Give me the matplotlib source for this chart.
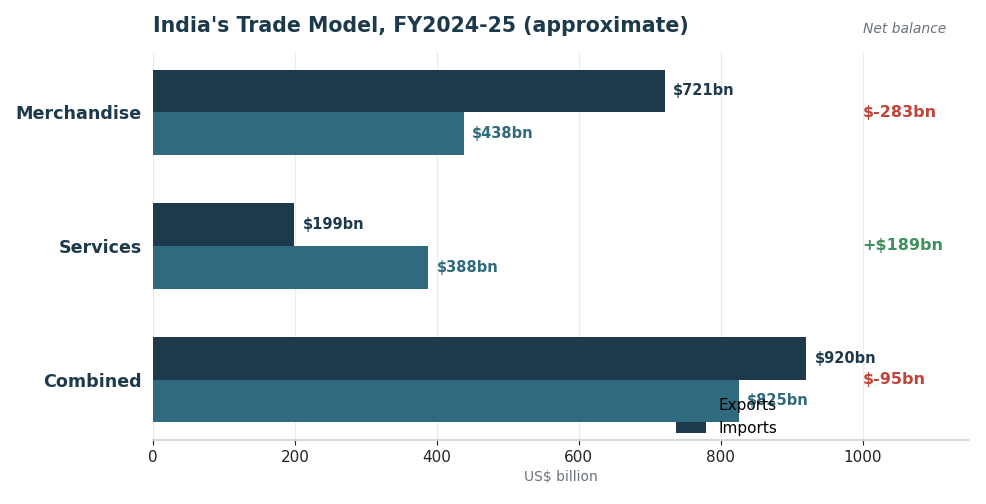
import matplotlib
matplotlib.use("Agg")
import matplotlib.pyplot as plt
from matplotlib.patches import Patch
import numpy as np

categories = ["Merchandise", "Services", "Combined"]
top_values = [721, 199, 920]
bottom_values = [438, 388, 825]
net_values = [-283, 189, -95]
legend_labels = ["Exports", "Imports"]

DARK = "#1d3a4c"
TEAL = "#2f6a7e"
RED = "#c0443a"
GREEN = "#3f8f5f"

fig, ax = plt.subplots(figsize=(9.86, 5.04), dpi=100)
fig.subplots_adjust(left=0.155, right=0.983, top=0.897, bottom=0.127)

y = np.arange(len(categories))
h = 0.32
ax.barh(y - h / 2, top_values, height=h, color=DARK, zorder=3)
ax.barh(y + h / 2, bottom_values, height=h, color=TEAL, zorder=3)

for yi, v in zip(y, top_values):
    ax.text(v + 12, yi - h / 2, f"${v}bn", va="center", ha="left",
            fontsize=10.5, fontweight="bold", color=DARK, zorder=4)
for yi, v in zip(y, bottom_values):
    ax.text(v + 12, yi + h / 2, f"${v}bn", va="center", ha="left",
            fontsize=10.5, fontweight="bold", color=TEAL, zorder=4)

for yi, n in zip(y, net_values):
    txt = f"$-{abs(n)}bn" if n < 0 else f"+${n}bn"
    ax.text(1000, yi, txt, va="center", ha="left", fontsize=11.5,
            fontweight="bold", color=RED if n < 0 else GREEN)

ax.set_xlim(0, 1150)
ax.invert_yaxis()
ax.set_yticks(y)
ax.set_yticklabels(categories, fontsize=12.6, fontweight="bold", color=DARK)
ax.tick_params(axis="y", length=0, pad=8)
ax.tick_params(axis="x", labelsize=11, colors="#222222")
ax.set_xlabel("US$ billion", fontsize=10, color="#6b7080")

for s in ["top", "right", "left"]:
    ax.spines[s].set_visible(False)
ax.spines["bottom"].set_color("#d8d8d8")
ax.spines["bottom"].set_linewidth(1.5)
ax.xaxis.grid(True, color="#ececec", linewidth=1, zorder=0)
ax.set_axisbelow(True)

ax.set_title("India's Trade Model, FY2024-25 (approximate)", loc="left",
             fontsize=14.8, fontweight="bold", color=DARK, pad=14)
ax.text(1000, -0.62, "Net balance", ha="left", va="center", fontsize=10,
        style="italic", color="#6b7080", transform=ax.transData, clip_on=False)

handles = [Patch(facecolor="none", edgecolor="none"), Patch(facecolor=DARK)]
ax.legend(handles, legend_labels, loc="lower right", bbox_to_anchor=(0.782, -0.024),
          frameon=False, fontsize=11)

fig.savefig("out.png", dpi=100)
